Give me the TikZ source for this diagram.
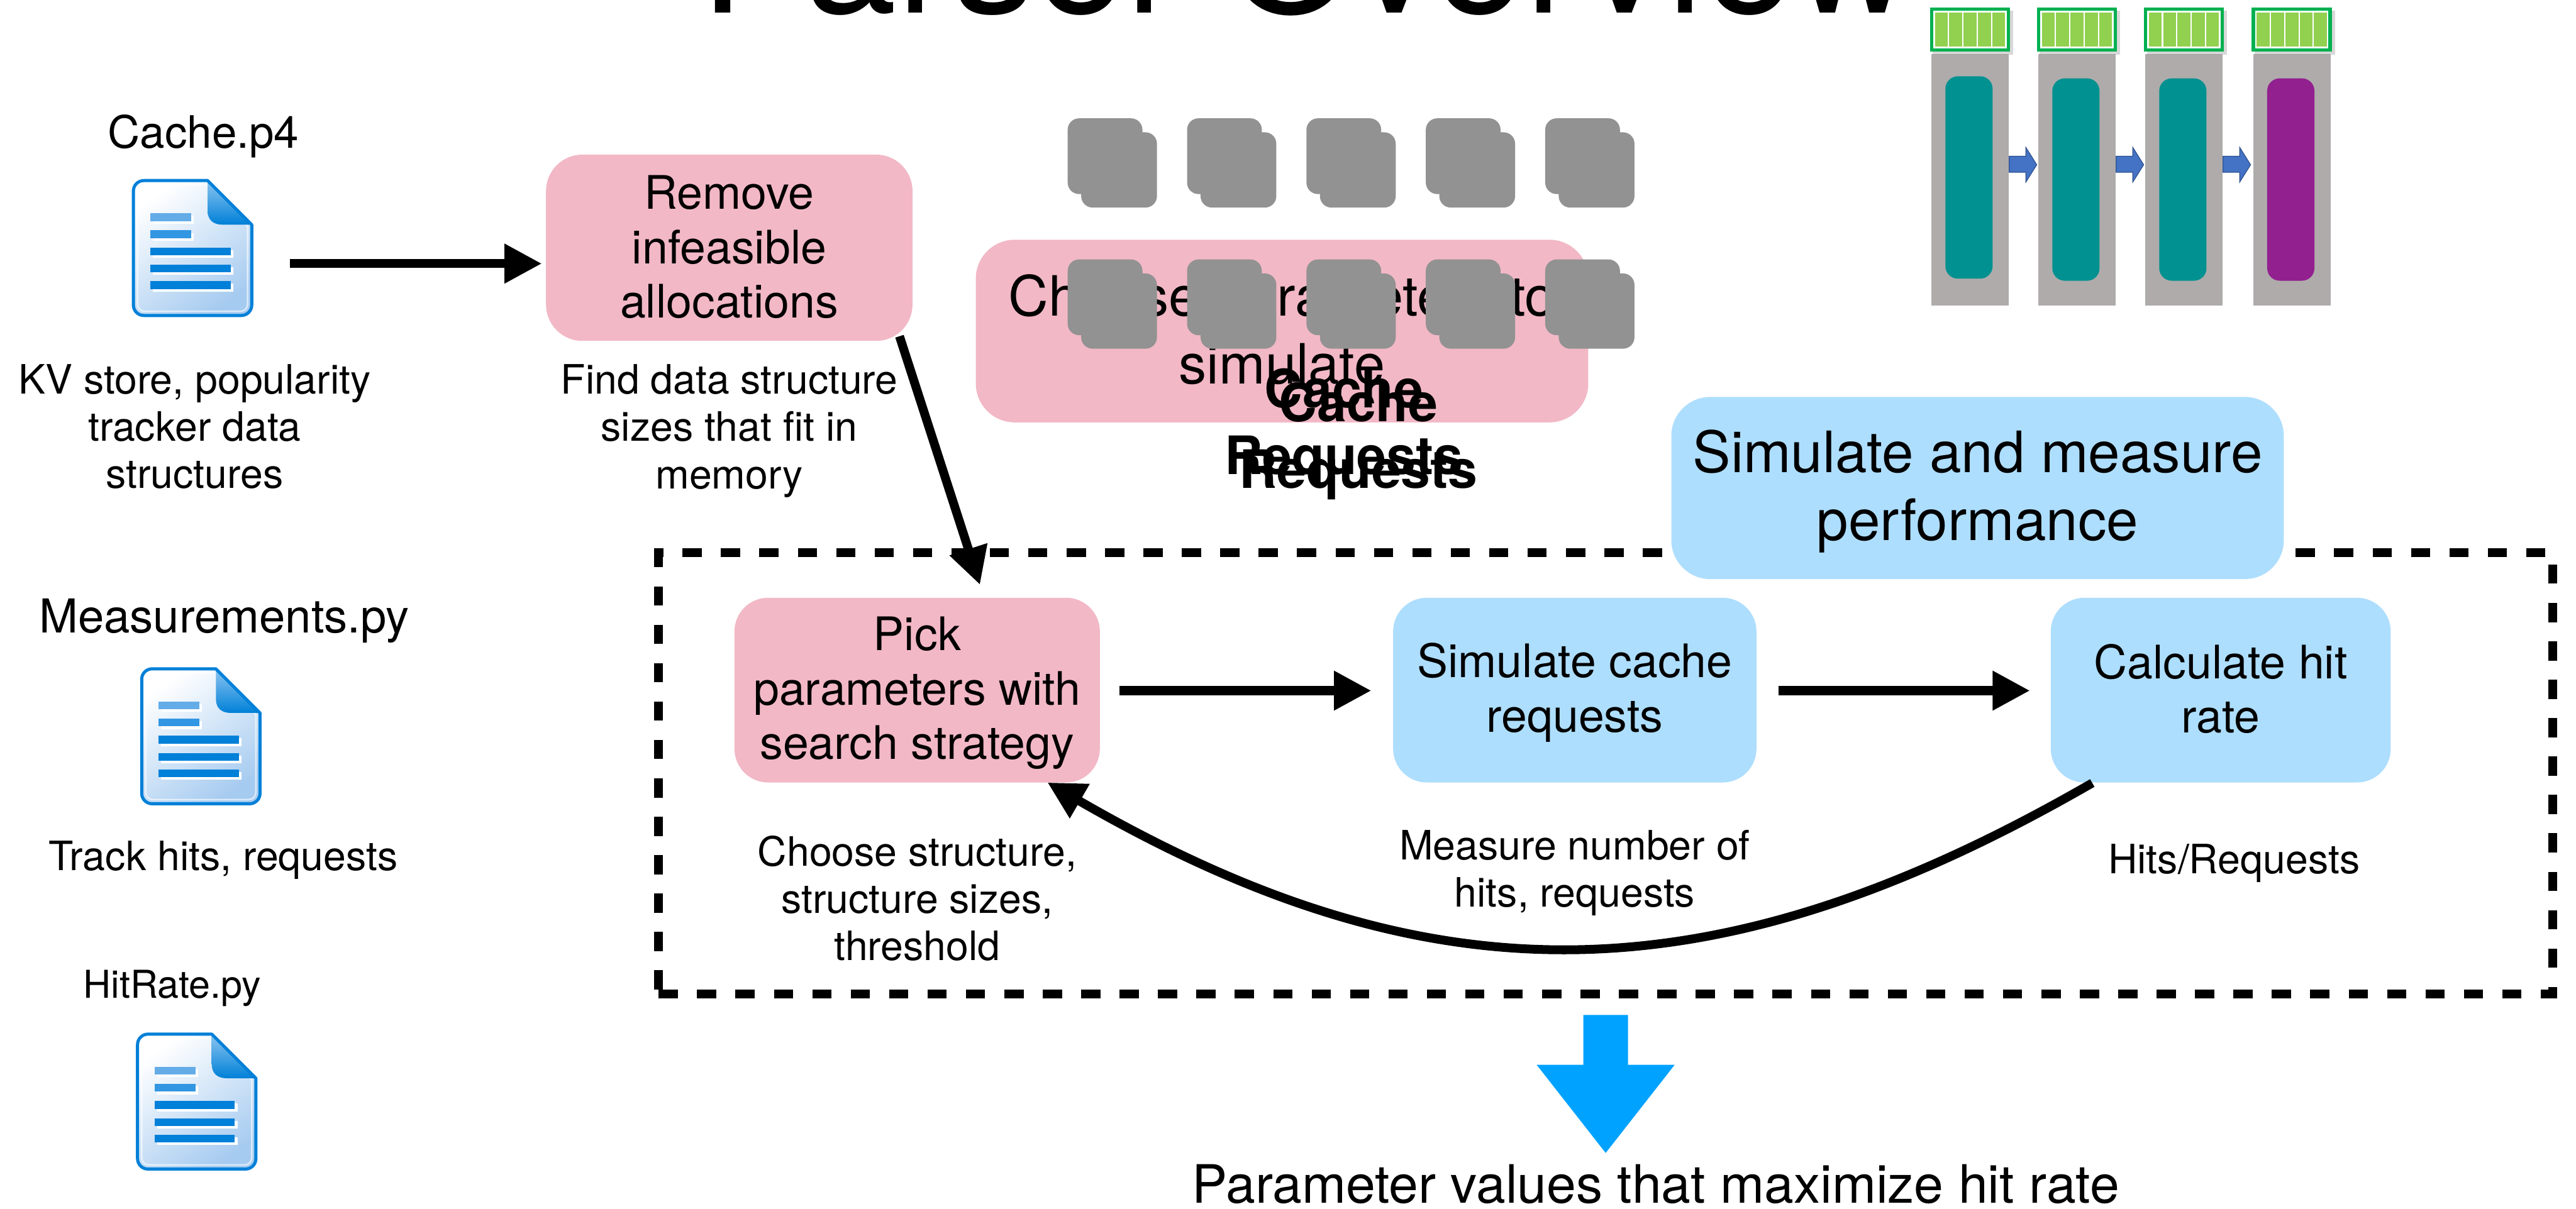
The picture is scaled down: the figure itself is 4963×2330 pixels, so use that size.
\documentclass[tikz,border=0pt]{standalone}
\usepackage{fontspec}
\setmainfont{TeX Gyre Heros}
\usetikzlibrary{arrows.meta,calc,shadows}

\definecolor{boxpink}{RGB}{242,184,198}
\definecolor{boxblue}{RGB}{174,222,254}
\definecolor{iconblue}{RGB}{0,128,216}
\definecolor{iconpale}{RGB}{166,203,240}
\definecolor{foldlight}{RGB}{140,197,240}
\definecolor{barlight}{RGB}{100,172,232}
\definecolor{barmid}{RGB}{50,150,226}
\definecolor{stackgray}{RGB}{146,146,146}
\definecolor{slotgray}{RGB}{175,171,171}
\definecolor{tealfill}{RGB}{0,145,144}
\definecolor{purplefill}{RGB}{146,32,143}
\definecolor{framegreen}{RGB}{0,176,80}
\definecolor{cellgreen}{RGB}{146,208,80}
\definecolor{stepblue}{RGB}{68,114,196}
\definecolor{stepedge}{RGB}{47,82,143}
\definecolor{resultblue}{RGB}{0,162,255}

% line strut: fixes first-line height and last-line depth of stacked text
\newcommand\lnstrut{\rule[-0.18em]{0pt}{1.04em}}

\tikzset{
  every node/.style={inner sep=0pt, outer sep=0pt},
  stagebox/.style={rounded corners=65, minimum height=356, align=center,
    font=\fontsize{89}{105}\selectfont},
  pinkstage/.style={stagebox, fill=boxpink},
  bluestage/.style={stagebox, fill=boxblue},
  widestage/.style={rounded corners=75, minimum width=1180, minimum height=352,
    align=center},
  note/.style={align=center, font=\fontsize{78}{91}\selectfont},
  filename/.style={anchor=base, font=\fontsize{86}{100}\selectfont},
  overlay text/.style={align=center, font=\fontsize{102}{128}\selectfont\bfseries},
  iconslot/.style={minimum width=228, minimum height=260},
  flow/.style={line width=17, -{Triangle[length=72pt,width=72pt]}},
  loopframe/.style={draw, line width=17, dash pattern=on 37pt off 37pt},
  docicon/.pic={
    % page body
    \shade[top color=white, bottom color=iconpale, shading angle=35]
      (0,20) .. controls (0,9) and (9,0) .. (20,0) -- (143,0) -- (228,85)
      -- (228,240) .. controls (228,251) and (219,260) .. (208,260)
      -- (20,260) .. controls (9,260) and (0,251) .. (0,240) -- cycle;
    \draw[white, opacity=0.6, line width=3]
      (8,22) .. controls (8,14) and (14,8) .. (22,8) -- (140,8)
      -- (220,88) -- (220,238) .. controls (220,246) and (214,252) .. (206,252)
      -- (22,252) .. controls (14,252) and (8,246) .. (8,238) -- cycle;
    % folded corner
    \shade[top color=foldlight, bottom color=iconblue]
      (143,0) -- (143,58) .. controls (143,76) and (154,85) .. (172,85)
      -- (228,85) -- cycle;
    % outline
    \draw[iconblue, line width=6, line join=round]
      (0,20) .. controls (0,9) and (9,0) .. (20,0) -- (143,0) -- (228,85)
      -- (228,240) .. controls (228,251) and (219,260) .. (208,260)
      -- (20,260) .. controls (9,260) and (0,251) .. (0,240) -- cycle;
    % text lines
    \foreach \ly/\lw/\lc in {63/79/barlight, 96/79/barmid, 129/155/iconblue,
                             162/155/iconblue, 194/155/iconblue} {
      \fill[white] (37.5,\ly+5) rectangle ++(\lw,15);
      \fill[\lc] (32.5,\ly) rectangle ++(\lw,15);
    }
  }
}

\begin{document}
\begin{tikzpicture}[x=1pt, y=-1pt]
\useasboundingbox (0,0) rectangle (4963,2330);
\clip (0,0) rectangle (4963,2330);
\fill[white] (0,0) rectangle (4963,2330);

% heading
\node[anchor=base, font=\fontsize{317}{380}\selectfont] (title) at (2517,25) {Parser Overview};

% memory slots with match-action stages
\foreach \gx/\ty/\core in {3721/147/tealfill, 3927/151/tealfill,
                           4133/151/tealfill, 4341/151/purplefill} {
  \fill[slotgray] (\gx,104) rectangle ++(149,485);
  \fill[\core, rounded corners=24] (\gx+27,\ty) rectangle ++(91,390);
  \fill[framegreen, drop shadow={opacity=0.3, shadow xshift=6pt, shadow yshift=-6pt}]
    (\gx-3,15) rectangle ++(155,84);
  \fill[white] (\gx+4,21) rectangle ++(141,72);
  \foreach \k in {0,...,4}
    \fill[cellgreen] ({\gx+7+\k*27.5},24) rectangle ++(25,66);
}
\foreach \gx in {3721,3927,4133} {
  \filldraw[fill=stepblue, draw=stepedge, line width=1.5]
    (\gx+150,301) -- (\gx+182,301) -- (\gx+182,284) -- (\gx+203,317.5)
    -- (\gx+182,351) -- (\gx+182,332) -- (\gx+150,332) -- cycle;
}

% search loop frame
\node[loopframe, minimum width=3649, minimum height=851] (loop) at (3093.5,1490.5) {};

% stages
\node[pinkstage, minimum width=706, minimum height=359, rounded corners=70]
  (remove) at (1405,477.5) {\lnstrut Remove\\\lnstrut infeasible\\\lnstrut allocations};
\node[widestage, fill=boxpink, font=\fontsize{107}{130}\selectfont]
  (choose) at (2470,638) {\lnstrut Choose parameters to\\\lnstrut simulate};
\node[widestage, fill=boxblue, minimum height=351, font=\fontsize{110}{130}\selectfont]
  (measure) at (3810,940.5) {\lnstrut Simulate and measure\\\lnstrut performance};
\node[pinkstage, minimum width=704] (pick) at (1767,1330)
  {\lnstrut Pick\\\lnstrut parameters with\\\lnstrut search strategy};
\node[bluestage, minimum width=700] (simcache) at (3034,1330)
  {\lnstrut Simulate cache\\\lnstrut requests};
\node[bluestage, minimum width=655] (calc) at (4278.5,1330)
  {\lnstrut Calculate hit\\\lnstrut rate};

% request stacks
\foreach \yb in {228,500} {
  \foreach \i in {0,...,4} {
    \fill[stackgray, rounded corners=22] ({2057+230*\i},\yb) rectangle ++(144,146);
    \fill[stackgray, rounded corners=22] ({2083+230*\i},\yb+27) rectangle ++(146,145);
  }
}
\node[overlay text] (reqa) at (2589,817) {\lnstrut Cache\\\lnstrut Requests};
\node[overlay text] (reqb) at (2617,844) {\lnstrut Cache\\\lnstrut Requests};

% input files
\node[filename] (cachefile) at (392,285) {Cache.p4};
\node[iconslot] (doc1) at (371,478) {};
\pic at (doc1.north west) {docicon};
\node[note] (kvnote) at (375,823.5)
  {\lnstrut KV store, popularity\\\lnstrut tracker data\\\lnstrut structures};

\node[filename, font=\fontsize{90}{100}\selectfont] (measfile) at (432,1220) {Measurements.py};
\node[iconslot] (doc2) at (387,1419) {};
\pic at (doc2.north west) {docicon};
\node[note, anchor=base] (tracknote) at (430,1678) {Track hits, requests};

\node[filename, font=\fontsize{74}{90}\selectfont] (hitfile) at (332,1923) {HitRate.py};
\node[iconslot] (doc3) at (379,2123) {};
\pic at (doc3.north west) {docicon};

% stage notes
\node[note] (findnote) at (1405,825.5)
  {\lnstrut Find data structure\\\lnstrut sizes that fit in\\\lnstrut memory};
\node[note] (choosenote) at (1767,1733.5)
  {\lnstrut Choose structure,\\\lnstrut structure sizes,\\\lnstrut threshold};
\node[note] (measnote) at (3034,1677.5)
  {\lnstrut Measure number of\\\lnstrut hits, requests};
\node[note, anchor=base] (hitsnote) at (4304,1684) {Hits/Requests};

% result
\fill[resultblue] ($(loop.south)+(-43,40)$) -- ++(86,0) -- ++(0,96) -- ++(90,0)
  -- ++(-133,170) -- ++(-133,-170) -- ++(90,0) -- cycle;
\node[anchor=base, font=\fontsize{102}{120}\selectfont] (result) at (3190,2318)
  {Parameter values that maximize hit rate};

% connectors
\draw[flow] ($(doc1.east)+(73,30)$) -- ($(remove.west)+(-8,30.5)$);
\draw[flow] ($(remove.south east)+(-25,-9)$) -- ($(pick.north)+(121,-25)$);
\draw[flow] ($(pick.east)+(38,1)$) -- ($(simcache.west)+(-42,1)$);
\draw[flow] ($(simcache.east)+(43,1)$) -- ($(calc.west)+(-40,1)$);
\draw[flow] ($(calc.south west)+(80,1)$) .. controls +(-733,423) and +(733,424)
  .. ($(pick.south east)+(-101,0)$);
\end{tikzpicture}
\end{document}
